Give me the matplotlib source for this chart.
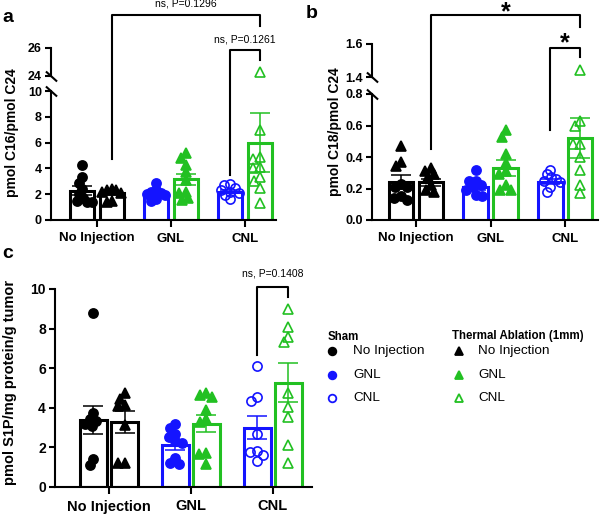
import numpy as np
import matplotlib
matplotlib.use('Agg')
import matplotlib.pyplot as plt
from matplotlib.lines import Line2D

plt.rcParams['font.family'] = ['Liberation Sans', 'DejaVu Sans']

# ---------------- data ----------------
groups = ['No Injection', 'GNL', 'CNL']

# panel a : pmol C16 / pmol C24
a_sham_pts = [[4.3, 3.3, 2.9, 2.4, 2.0, 1.7, 1.5, 1.4, 1.4],
              [2.9, 2.3, 2.2, 2.1, 2.0, 1.9, 1.6, 1.5],
              [2.8, 2.7, 2.5, 2.3, 2.2, 2.1, 1.9, 1.6]]
a_abl_pts = [[2.4, 2.3, 2.3, 2.2, 2.1, 1.5, 1.4],
             [5.2, 4.8, 4.3, 3.7, 3.1, 2.2, 2.1, 1.7, 1.55],
             [24.3, 7.0, 4.9, 4.7, 4.1, 4.0, 3.35, 3.0, 2.45, 1.3]]
a_sham_mean = [2.27, 2.0, 2.2]
a_sham_sem = [0.37, 0.17, 0.13]
a_abl_mean = [2.1, 3.15, 6.0]
a_abl_sem = [0.15, 0.45, 2.3]

# panel b : pmol C18 / pmol C24
b_sham_pts = [[0.23, 0.21, 0.21, 0.15, 0.14, 0.13],
              [0.32, 0.25, 0.25, 0.22, 0.21, 0.19, 0.16, 0.15],
              [0.32, 0.29, 0.27, 0.26, 0.25, 0.24, 0.21, 0.18]]
b_sham_noinj_tri = [0.47, 0.37, 0.34]   # drawn as triangles on the first bar
b_abl_pts = [[0.33, 0.31, 0.29, 0.27, 0.22, 0.19, 0.18],
             [0.57, 0.53, 0.42, 0.36, 0.31, 0.29, 0.22, 0.19, 0.19],
             [1.44, 0.63, 0.60, 0.48, 0.48, 0.40, 0.32, 0.22, 0.17]]
b_sham_mean = [0.243, 0.21, 0.243]
b_sham_sem = [0.044, 0.02, 0.015]
b_abl_mean = [0.24, 0.33, 0.52]
b_abl_sem = [0.022, 0.05, 0.125]

# panel c : pmol S1P / mg protein / g tumor
c_sham_pts = [[8.8, 3.75, 3.45, 3.35, 3.2, 3.1, 1.4, 1.1],
              [3.17, 2.96, 2.7, 2.55, 2.3, 2.2, 1.45, 1.2, 1.15],
              [6.1, 4.55, 4.35, 2.7, 1.8, 1.75, 1.6, 1.3]]
c_abl_pts = [[4.73, 4.45, 4.15, 4.1, 3.15, 1.2, 1.2],
             [4.73, 4.65, 4.55, 3.9, 3.45, 3.3, 1.7, 1.65, 1.15],
             [8.97, 8.1, 7.6, 7.34, 4.73, 4.06, 3.55, 2.12, 1.2]]
c_sham_mean = [3.38, 2.12, 3.0]
c_sham_sem = [0.72, 0.25, 0.6]
c_abl_mean = [3.3, 3.2, 5.27]
c_abl_sem = [0.55, 0.42, 1.0]

BLACK = '#000000'
BLUE = '#1414ff'
GREEN = '#22c022'
sham_colors = [BLACK, BLUE, BLUE]
abl_colors = [BLACK, GREEN, GREEN]
sham_filled = [True, True, False]
abl_filled = [True, True, False]

# ---------------- figure ----------------
W, H = 600, 516
fig = plt.figure(figsize=(6, 5.16), dpi=100)


def rect(l, r, t, b):
    return [l / W, 1 - b / H, (r - l) / W, (b - t) / H]


def fx(px):
    return px / W


def fy(py):
    return 1 - py / H


def style_axis(ax, bottom=True):
    for s in ['top', 'right']:
        ax.spines[s].set_visible(False)
    ax.spines['left'].set_linewidth(1.5)
    ax.spines['bottom'].set_linewidth(1.5)
    ax.patch.set_alpha(0)
    ax.tick_params(axis='both', length=4.5, width=1.5, labelsize=9, pad=2)
    for lab in ax.get_yticklabels():
        lab.set_fontweight('bold')
    if not bottom:
        ax.spines['bottom'].set_visible(False)
        ax.set_xticks([])


def swarm(ax, xc, ys, d=7.0, max_half=10.0):
    if len(ys) == 0:
        return np.array([])
    pts = ax.transData.transform(np.column_stack([np.full(len(ys), xc), ys]))
    ypx = pts[:, 1]
    order = np.argsort(-ypx)
    placed = []
    xoff = np.zeros(len(ys))
    for i in order:
        y = ypx[i]
        cands = [0.0]
        intervals = []
        for (px, py) in placed:
            dy = abs(py - y)
            if dy < d:
                dx = np.sqrt(d * d - dy * dy)
                intervals.append((px - dx, px + dx))
                cands += [px - dx, px + dx]
        cands.sort(key=abs)
        for c in cands:
            if all(not (a + 1e-6 < c < b - 1e-6) for a, b in intervals):
                xoff[i] = c
                break
        placed.append((xoff[i], y))
    m = np.max(np.abs(xoff))
    if m > max_half:
        xoff = xoff * (max_half / m)
    disp = np.column_stack([pts[:, 0] + xoff, ypx])
    return ax.transData.inverted().transform(disp)[:, 0]


def draw_points(ax, x, ys, color, marker, filled, ms, max_half):
    xs = swarm(ax, x, ys, max_half=max_half)
    ax.plot(xs, ys, linestyle='none', marker=marker, ms=ms,
            mfc=color if filled else 'none', mec=color,
            mew=1.2, zorder=4, clip_on=False)


def draw_panel(ax_low, ax_up, split, off, width, sham_pts, abl_pts,
               sham_mean, sham_sem, abl_mean, abl_sem, max_half, extra_tri=None):
    for g in range(3):
        for side, pts, mean, sem, color, marker, filled in [
                (-1, sham_pts[g], sham_mean[g], sham_sem[g], sham_colors[g], 'o', sham_filled[g]),
                (1, abl_pts[g], abl_mean[g], abl_sem[g], abl_colors[g], '^', abl_filled[g])]:
            x = g + side * off
            ax_low.bar(x, mean, width, facecolor='white', edgecolor=color,
                       linewidth=2.2, zorder=2)
            ax_low.errorbar(x, mean, yerr=sem, color=color, capsize=7,
                            elinewidth=1.1, capthick=1.1, zorder=5)
            ms = 6.6 if marker == 'o' else 7.3
            low = [p for p in pts if p < split]
            up = [p for p in pts if p >= split]
            if side == -1 and g == 0 and extra_tri is not None:
                xs_all = swarm(ax_low, x, low + extra_tri, max_half=max_half)
                n = len(low)
                ax_low.plot(xs_all[:n], low, linestyle='none', marker='o', ms=6.6,
                            mfc=color, mec=color, mew=1.2, zorder=4)
                ax_low.plot(xs_all[n:], extra_tri, linestyle='none', marker='^', ms=7.3,
                            mfc=color, mec=color, mew=1.2, zorder=4)
            else:
                draw_points(ax_low, x, low, color, marker, filled, ms, max_half)
            if up and ax_up is not None:
                draw_points(ax_up, x, up, color, marker, filled, ms, max_half)


def break_marks(ax_low, ax_up):
    kw = dict(marker=[(-1, 0.9), (1, -0.9)], markersize=8, linestyle='none',
              color='k', mec='k', mew=1.5, clip_on=False)
    ax_low.plot([0], [1], transform=ax_low.transAxes, **kw)
    ax_up.plot([0], [0], transform=ax_up.transAxes, **kw)


def data_x_fig(ax, x):
    disp = ax.transData.transform((x, 0))
    return fig.transFigure.inverted().transform(disp)[0]


def bracket(ax, x1, x2, top, bot1, bot2):
    X1, X2 = data_x_fig(ax, x1), data_x_fig(ax, x2)
    fig.add_artist(Line2D([X1, X1, X2, X2], [fy(bot1), fy(top), fy(top), fy(bot2)],
                          color='k', lw=1.5, transform=fig.transFigure))
    return (X1 + X2) / 2


# ---------- panel a ----------
off_a, w_a = 0.2, 0.32
axa = fig.add_axes(rect(51, 276, 91, 220))
axa_up = fig.add_axes(rect(51, 276, 48, 76))
for ax in (axa, axa_up):
    ax.set_xlim(-0.62, 2.42)
axa.set_ylim(0, 10)
axa.set_yticks([0, 2, 4, 6, 8, 10])
axa_up.set_ylim(24, 26)
axa_up.set_yticks([24, 26])
axa.set_xticks([0, 1, 2], groups, fontsize=9.5, fontweight='bold')
style_axis(axa)
style_axis(axa_up, bottom=False)
axa.tick_params(axis='x', length=5, pad=4, labelsize=9.5)
draw_panel(axa, axa_up, 20, off_a, w_a, a_sham_pts, a_abl_pts,
           a_sham_mean, a_sham_sem, a_abl_mean, a_abl_sem, max_half=9.5)
break_marks(axa, axa_up)
fig.text(fx(12), fy(133), 'pmol C16/pmol C24', rotation=90, ha='center', va='center',
         fontsize=10, fontweight='bold')
cx = bracket(axa, 0 + off_a, 2 + off_a, 15, 159, 26)
fig.text(cx, fy(4), 'ns, P=0.1296', ha='center', va='center', fontsize=7.5)
cx = bracket(axa, 2 - off_a, 2 + off_a, 50, 175, 60)
fig.text(cx, fy(40), 'ns, P=0.1261', ha='center', va='center', fontsize=7.5)

# ---------- panel b ----------
off_b, w_b = 0.2, 0.33
axb = fig.add_axes(rect(372, 598, 94, 220))
axb_up = fig.add_axes(rect(372, 598, 44, 77))
for ax in (axb, axb_up):
    ax.set_xlim(-0.59, 2.44)
axb.set_ylim(0, 0.8)
axb.set_yticks([0, 0.2, 0.4, 0.6, 0.8])
axb.set_yticklabels(['0.0', '0.2', '0.4', '0.6', '0.8'])
axb_up.set_ylim(1.4, 1.6)
axb_up.set_yticks([1.4, 1.6])
axb_up.set_yticklabels(['1.4', '1.6'])
axb.set_xticks([0, 1, 2], groups, fontsize=9.5, fontweight='bold')
style_axis(axb)
style_axis(axb_up, bottom=False)
axb.tick_params(axis='x', length=5, pad=4, labelsize=9.5)
draw_panel(axb, axb_up, 1.0, off_b, w_b, b_sham_pts, b_abl_pts,
           b_sham_mean, b_sham_sem, b_abl_mean, b_abl_sem, max_half=10,
           extra_tri=b_sham_noinj_tri)
break_marks(axb, axb_up)
fig.text(fx(335), fy(132), 'pmol C18/pmol C24', rotation=90, ha='center', va='center',
         fontsize=10, fontweight='bold')
cx = bracket(axb, 0 + off_b, 2 + off_b, 15, 149, 27)
fig.text(cx, fy(12), '*', ha='center', va='center', fontsize=18, fontweight='bold')
cx = bracket(axb, 2 - off_b, 2 + off_b, 48, 130, 57)
fig.text(cx, fy(43), '*', ha='center', va='center', fontsize=18, fontweight='bold')

# ---------- panel c ----------
off_c, w_c = 0.19, 0.33
axc = fig.add_axes(rect(55, 312, 289, 487))
axc.set_xlim(-0.66, 2.48)
axc.set_ylim(0, 10)
axc.set_yticks([0, 2, 4, 6, 8, 10])
axc.set_xticks([0, 1, 2], groups, fontsize=10, fontweight='bold')
style_axis(axc)
axc.tick_params(axis='y', labelsize=10)
for lab in axc.get_yticklabels():
    lab.set_fontweight('bold')
axc.tick_params(axis='x', length=5, pad=4, labelsize=10.5)
draw_panel(axc, None, 99, off_c, w_c, c_sham_pts, c_abl_pts,
           c_sham_mean, c_sham_sem, c_abl_mean, c_abl_sem, max_half=11)
fig.text(fx(10), fy(382), 'pmol S1P/mg protein/g tumor', rotation=90, ha='center',
         va='center', fontsize=10.5, fontweight='bold')
cx = bracket(axc, 2 - off_c, 2 + off_c, 287, 355, 297)
fig.text(cx, fy(274), 'ns, P=0.1408', ha='center', va='center', fontsize=7.5)

# ---------- legend ----------
rows = [351, 375, 398]
fig.text(fx(328), fy(337), 'Sham', ha='left', va='center', fontsize=8.3, fontweight='bold')
fig.text(fx(452), fy(336), 'Thermal Ablation (1mm)', ha='left', va='center',
         fontsize=8.3, fontweight='bold')
for i, lab in enumerate(groups):
    c = sham_colors[i]
    fig.add_artist(Line2D([fx(332)], [fy(rows[i])], marker='o', ms=5.5, linestyle='none',
                          mfc=c if sham_filled[i] else 'none', mec=c, mew=1.3,
                          transform=fig.transFigure))
    fig.text(fx(353), fy(rows[i]), lab, ha='left', va='center', fontsize=9.7)
    c = abl_colors[i]
    fig.add_artist(Line2D([fx(459)], [fy(rows[i])], marker='^', ms=5.5, linestyle='none',
                          mfc=c if abl_filled[i] else 'none', mec=c, mew=1.3,
                          transform=fig.transFigure))
    fig.text(fx(478), fy(rows[i]), lab, ha='left', va='center', fontsize=9.7)

# ---------- panel labels ----------
fig.text(fx(2), fy(17), 'a', ha='left', va='center', fontsize=14, fontweight='bold')
fig.text(fx(306), fy(14), 'b', ha='left', va='center', fontsize=14, fontweight='bold')
fig.text(fx(2), fy(253), 'c', ha='left', va='center', fontsize=14, fontweight='bold')

fig.savefig('out.png', dpi=100)
